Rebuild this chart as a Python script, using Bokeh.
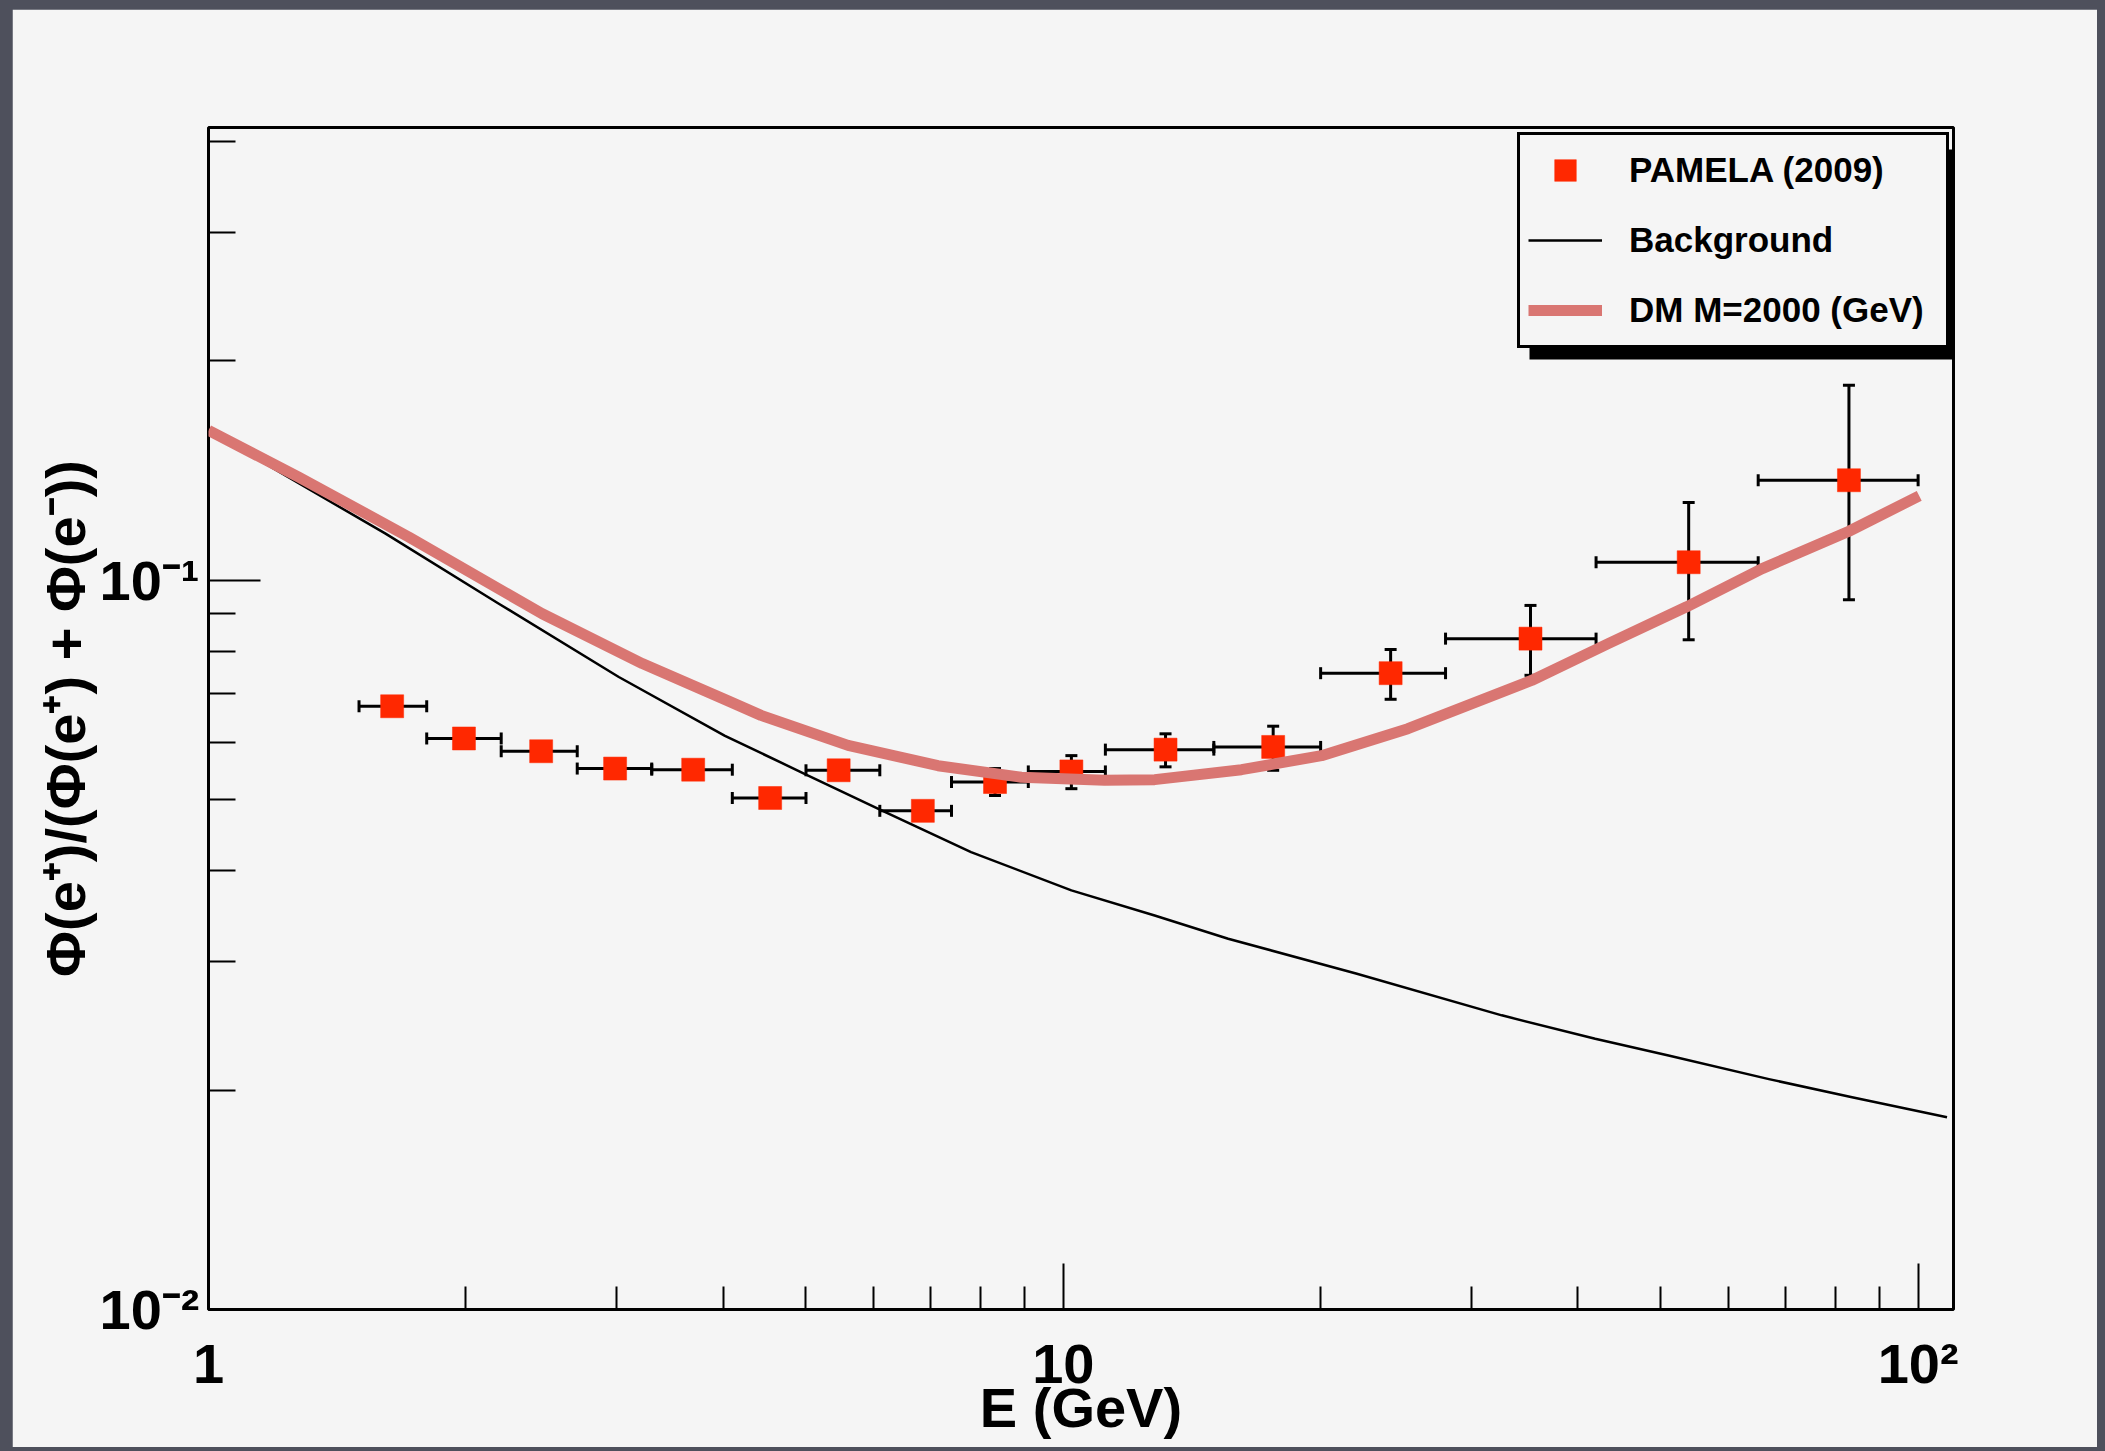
from bokeh.plotting import figure
from bokeh.models import (ColumnDataSource, Range1d, FixedTicker, Whisker, TeeHead,
                          Legend, LegendItem, BoxAnnotation)
from bokeh.layouts import column
from bokeh.embed import file_html
from bokeh.resources import INLINE

# PAMELA (2009) positron fraction: bin centre, bin edges, value and error band
pam_e = [1.64, 1.99, 2.45, 2.99, 3.69, 4.54, 5.46, 6.85, 8.32, 10.22, 13.17, 17.6, 24.15, 35.2, 53.9, 83.0]
pam_e_lo = [1.5, 1.8, 2.2, 2.7, 3.3, 4.1, 5.0, 6.1, 7.4, 9.1, 11.2, 15.0, 20.0, 28.0, 42.0, 65.0]
pam_e_hi = [1.8, 2.2, 2.7, 3.3, 4.1, 5.0, 6.1, 7.4, 9.1, 11.2, 15.0, 20.0, 28.0, 42.0, 65.0, 100.0]
pam_frac = [0.0672, 0.0607, 0.0583, 0.0552, 0.0550, 0.0503, 0.0549, 0.0483, 0.0529, 0.0547, 0.0586, 0.0591, 0.0746, 0.0832, 0.1059, 0.1372]
pam_frac_lo = [0.0660, 0.0596, 0.0572, 0.0542, 0.0540, 0.0494, 0.0539, 0.0474, 0.0507, 0.0518, 0.0555, 0.0549, 0.0687, 0.0741, 0.0829, 0.0941]
pam_frac_hi = [0.0684, 0.0618, 0.0594, 0.0562, 0.0560, 0.0512, 0.0559, 0.0492, 0.0552, 0.0575, 0.0616, 0.0631, 0.0804, 0.0924, 0.1279, 0.1852]

# secondary (background) positron fraction
bg_e = [1.0, 1.23, 1.611, 2.186, 3.02, 4.02, 4.98, 6.12, 7.80, 10.22, 12.79, 15.59, 22.0, 32.58, 41.9, 51.05, 66.9, 83.7, 108.1]
bg_frac = [0.1606, 0.1393, 0.1159, 0.0929, 0.0737, 0.0612, 0.0543, 0.0484, 0.0424, 0.03757, 0.0347, 0.03225, 0.0289, 0.02532, 0.02351, 0.02231, 0.0207, 0.01955, 0.01835]

# background + dark matter contribution, M = 2000 GeV
dm_e = [1.0, 1.275, 1.715, 2.457, 3.217, 4.06, 4.43, 5.60, 7.135, 8.93, 11.18, 12.79, 16.16, 20.05, 25.3, 35.3, 43.4, 53.6, 65.7, 83.0, 100.3]
dm_frac = [0.1606, 0.1386, 0.1147, 0.0900, 0.0769, 0.0683, 0.0653, 0.0594, 0.0557, 0.0537, 0.0532, 0.0533, 0.0550, 0.0575, 0.0626, 0.0729, 0.0819, 0.0920, 0.1038, 0.1168, 0.1306]

x_major = [1, 10, 100]
x_minor = [2, 3, 4, 5, 6, 7, 8, 9, 20, 30, 40, 50, 60, 70, 80, 90]
y_major = [0.01, 0.1]
y_minor = [0.02, 0.03, 0.04, 0.05, 0.06, 0.07, 0.08, 0.09, 0.2, 0.3, 0.4]

FONT = "Liberation Sans"
PANEL = "#f5f5f5"

p = figure(x_axis_type="log", y_axis_type="log",
           x_range=Range1d(1, 110), y_range=Range1d(0.01, 0.418),
           frame_width=1745, frame_height=1182,
           min_border_left=196, min_border_right=144, min_border_top=118, min_border_bottom=138,
           output_backend="svg", toolbar_location=None,
           background_fill_color=PANEL, border_fill_color=PANEL)
p.margin = (9, 8, 4, 12)
p.xgrid.visible = False
p.ygrid.visible = False
p.outline_line_color = "black"
p.outline_line_width = 3
p.outline_line_alpha = 1

src = ColumnDataSource(dict(e=pam_e, elo=pam_e_lo, ehi=pam_e_hi,
                            v=pam_frac, vlo=pam_frac_lo, vhi=pam_frac_hi))

for dim, base, lo, hi in (("width", "v", "elo", "ehi"), ("height", "e", "vlo", "vhi")):
    p.add_layout(Whisker(source=src, base=base, lower=lo, upper=hi, dimension=dim,
                         line_color="black", line_width=3,
                         upper_head=TeeHead(size=12, line_width=3, line_color="black"),
                         lower_head=TeeHead(size=12, line_width=3, line_color="black")))

pts = p.scatter("e", "v", source=src, marker="square", size=23,
                fill_color="#ff2800", line_color="#ff2800", line_width=0.5)
bg = p.line(bg_e, bg_frac, line_color="black", line_width=2.5, line_join="round")
dm = p.line(dm_e, dm_frac, line_color="#d97672", line_width=11, line_join="round")

# axes: ticks pointing into the frame, ROOT style
xa = p.xaxis[0]
xa.ticker = FixedTicker(ticks=x_major, minor_ticks=x_minor)
xa.major_label_overrides = {1: "1", 10: "10", 100: "10²"}
xa.major_tick_in, xa.major_tick_out = 46, 0
xa.minor_tick_in, xa.minor_tick_out = 23, 0
xa.major_label_standoff = 22
xa.axis_label = "E (GeV)"
xa.axis_label_standoff = -22

ya = p.yaxis[0]
ya.ticker = FixedTicker(ticks=y_major, minor_ticks=y_minor)
ya.major_label_overrides = {0.01: "10⁻²", 0.1: "10⁻¹"}
ya.major_tick_in, ya.major_tick_out = 52, 0
ya.minor_tick_in, ya.minor_tick_out = 27, 0
ya.major_label_standoff = 9
ya.axis_label = "Φ(e⁺)/(Φ(e⁺) + Φ(e⁻))"
ya.axis_label_standoff = 0

for ax in (xa, ya):
    ax.axis_line_color = None
    ax.major_tick_line_color = "black"
    ax.minor_tick_line_color = "black"
    ax.major_tick_line_width = 2
    ax.minor_tick_line_width = 2
    ax.major_label_text_font = FONT
    ax.major_label_text_font_style = "bold"
    ax.major_label_text_font_size = "56px"
    ax.major_label_text_color = "black"
    ax.axis_label_text_font = FONT
    ax.axis_label_text_font_style = "bold"
    ax.axis_label_text_font_size = "56px"
    ax.axis_label_text_color = "black"

# legend with a drop shadow
leg_x, leg_y, leg_w, leg_h = 1309, 961, 426, 210
p.add_layout(BoxAnnotation(left=leg_x + 12, right=leg_x + leg_w + 12,
                           bottom=leg_y - 11, top=leg_y + leg_h - 11,
                           left_units="screen", right_units="screen",
                           bottom_units="screen", top_units="screen",
                           fill_color="black", fill_alpha=1, line_color=None))

legend = Legend(items=[LegendItem(label="PAMELA (2009)", renderers=[pts]),
                       LegendItem(label="Background", renderers=[bg]),
                       LegendItem(label="DM M=2000 (GeV)", renderers=[dm])],
                location=(leg_x, leg_y),
                glyph_width=74, glyph_height=54, label_standoff=27,
                padding=8, spacing=16, label_width=309,
                label_text_font=FONT, label_text_font_style="bold",
                label_text_font_size="35px", label_text_color="black",
                border_line_color="black", border_line_width=3, border_line_alpha=1,
                background_fill_color=PANEL, background_fill_alpha=1)
p.add_layout(legend)

page = column(p, styles={"background-color": "#4e505c"})

open("out.html", "w").write(file_html(page, INLINE))
